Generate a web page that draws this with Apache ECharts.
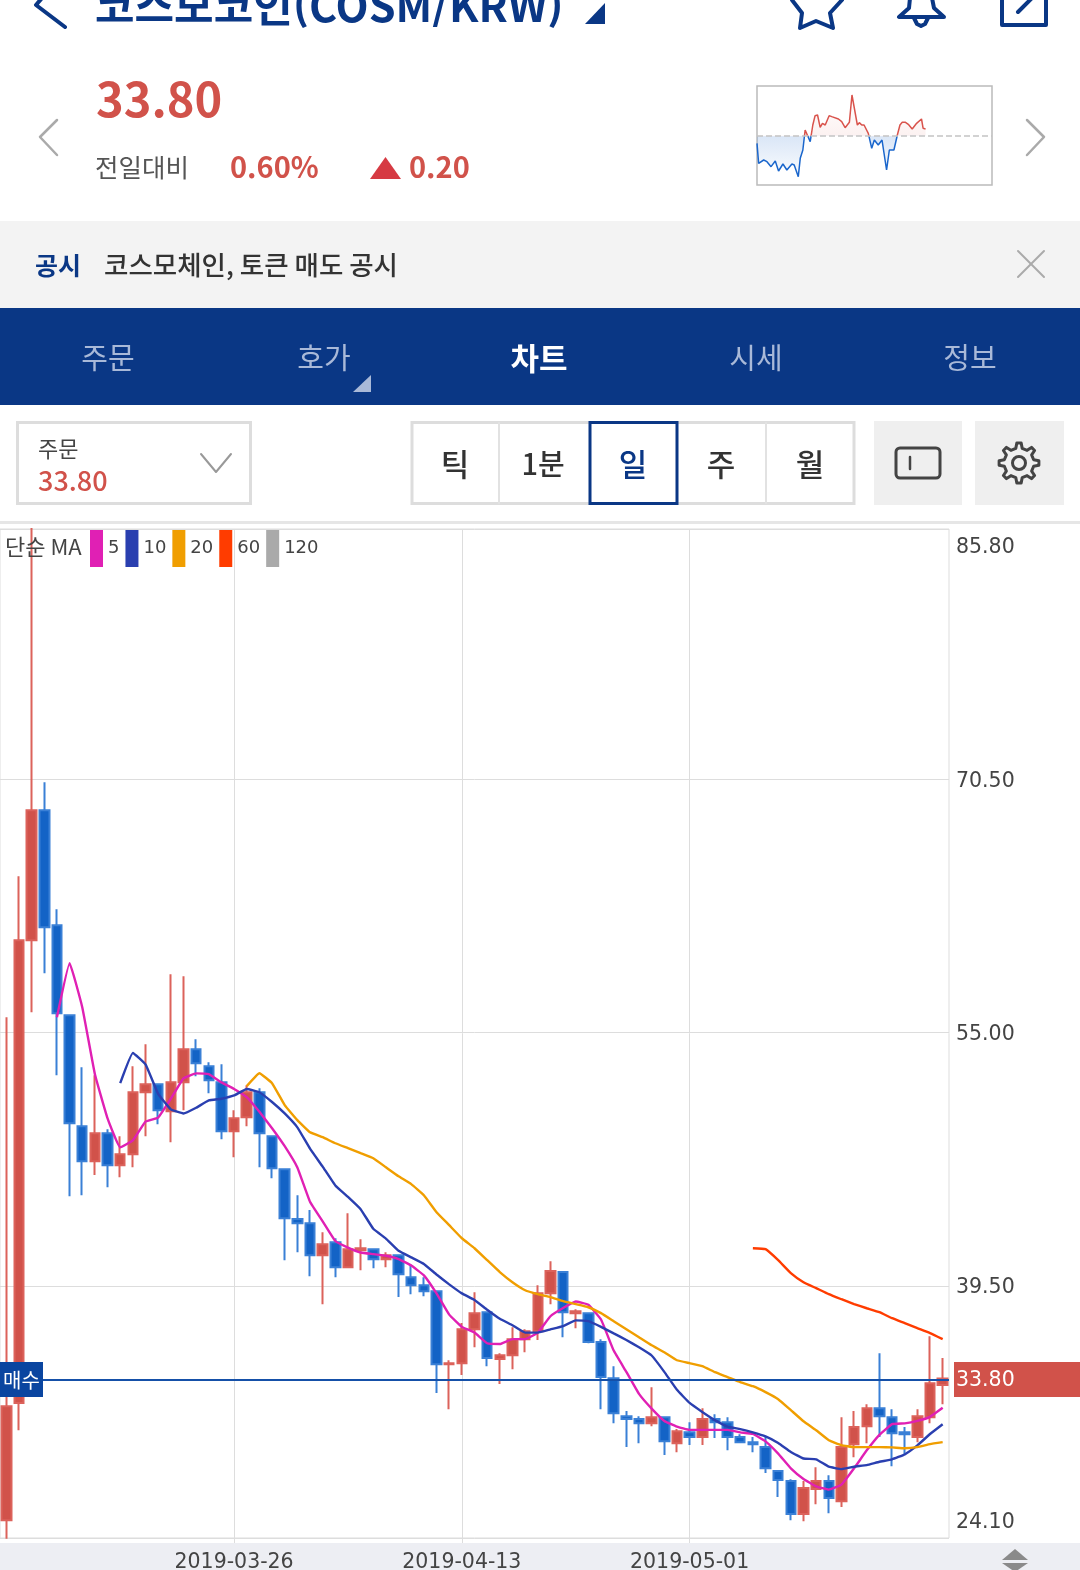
<!DOCTYPE html>
<html lang="ko">
<head>
<meta charset="utf-8">
<title>코스모코인 차트</title>
<script src="https://cdn.jsdelivr.net/npm/echarts@6/dist/echarts.min.js"></script>
<style>html,body{margin:0;padding:0;background:#fff}#chart{width:1080px;height:1570px}</style>
</head>
<body>
<div id="chart"></div>
<script>
const categories = [
"2019-03-08","2019-03-09","2019-03-10","2019-03-11","2019-03-12","2019-03-13","2019-03-14","2019-03-15","2019-03-16","2019-03-17",
"2019-03-18","2019-03-19","2019-03-20","2019-03-21","2019-03-22","2019-03-23","2019-03-24","2019-03-25","2019-03-26","2019-03-27",
"2019-03-28","2019-03-29","2019-03-30","2019-03-31","2019-04-01","2019-04-02","2019-04-03","2019-04-04","2019-04-05","2019-04-06",
"2019-04-07","2019-04-08","2019-04-09","2019-04-10","2019-04-11","2019-04-12","2019-04-13","2019-04-14","2019-04-15","2019-04-16",
"2019-04-17","2019-04-18","2019-04-19","2019-04-20","2019-04-21","2019-04-22","2019-04-23","2019-04-24","2019-04-25","2019-04-26",
"2019-04-27","2019-04-28","2019-04-29","2019-04-30","2019-05-01","2019-05-02","2019-05-03","2019-05-04","2019-05-05","2019-05-06",
"2019-05-07","2019-05-08","2019-05-09","2019-05-10","2019-05-11","2019-05-12","2019-05-13","2019-05-14","2019-05-15","2019-05-16",
"2019-05-17","2019-05-18","2019-05-19","2019-05-20","2019-05-21"];
const dateTicks = ["2019-03-26","2019-04-13","2019-05-01"];
const priceTicks = [24.10,39.50,55.00,70.50,85.80];
const lastPrice = 33.80;
// all readings below were taken against a baseline one pixel high
const readCorrection = 0.06;

const opens = [
25.13,32.29,60.59,68.54,61.51,56.01,49.22,47.08,48.79,46.84,
47.51,51.30,51.79,50.14,51.91,53.93,52.89,51.91,48.92,49.77,
51.30,48.61,46.59,43.54,43.29,41.33,42.13,40.60,41.64,41.70,
41.09,41.33,39.99,39.50,39.13,34.67,34.73,36.81,37.85,34.98,
35.22,36.20,36.69,39.01,40.30,37.79,37.79,36.02,33.81,31.49,
31.31,31.06,31.43,29.84,30.51,30.21,31.31,31.12,30.21,29.90,
29.60,28.13,27.52,25.50,27.03,27.52,26.29,29.78,30.88,31.98,
31.43,30.51,30.21,31.43,33.39];
const closes = [
32.10,60.59,68.54,61.39,56.13,49.40,47.08,48.79,46.84,47.51,
51.30,51.79,50.20,51.91,53.93,53.07,52.03,48.92,49.71,51.30,
48.79,46.65,43.60,43.29,41.33,42.01,40.60,41.70,41.76,41.09,
41.33,40.17,39.50,39.13,34.67,34.73,36.81,37.79,35.04,35.22,
36.20,36.69,39.01,40.36,37.85,37.91,36.02,33.88,31.67,31.31,
31.06,31.43,29.96,30.57,30.21,31.31,31.12,30.21,29.90,29.78,
28.31,27.58,25.50,27.09,27.52,26.48,29.60,30.82,31.98,31.49,
30.45,30.39,31.49,33.51,33.80];
const lows = [
24.00,30.63,56.19,58.58,52.34,44.94,45.00,46.23,45.49,46.10,
46.71,48.61,49.34,48.24,50.20,52.28,51.24,48.43,47.33,49.22,
46.71,46.04,41.03,41.52,40.05,38.34,39.99,40.54,40.42,40.54,
40.60,38.77,38.95,38.83,32.90,31.92,34.00,35.71,34.55,33.45,
34.36,35.40,36.14,38.34,36.32,36.87,35.95,31.92,31.06,29.60,
29.84,30.88,29.11,29.29,29.72,29.72,30.15,29.41,29.84,29.29,
28.01,26.54,25.13,25.07,26.11,25.56,25.93,28.98,29.84,30.21,
28.43,29.17,29.90,31.06,32.22];
const highs = [
55.89,64.51,85.80,70.25,62.49,56.01,52.83,52.34,49.04,48.61,
52.89,54.23,51.79,58.51,58.39,54.54,53.13,53.01,50.20,51.73,
51.54,48.67,46.59,45.00,44.09,42.74,42.37,43.90,42.31,41.70,
41.52,41.33,40.78,39.99,39.13,34.91,37.18,39.07,37.85,35.34,
36.93,36.81,39.50,40.97,40.30,38.03,37.79,36.20,34.55,31.80,
31.49,33.26,31.43,30.70,31.12,31.98,31.61,31.43,30.39,30.21,
30.21,28.13,27.64,27.52,28.37,27.88,31.43,31.80,32.22,35.34,
31.92,30.82,31.92,36.38,35.04];

const ma5 = [null,null,null,null,
55.89,59.19,56.50,52.40,49.70,47.93,
48.35,49.50,49.75,50.90,52.15,52.45,52.40,51.90,51.50,51.00,
50.10,49.10,48.00,46.70,44.60,43.40,42.20,41.80,41.50,41.40,
41.30,41.10,40.70,40.10,39.00,37.70,36.95,36.60,35.95,35.90,
36.20,36.20,36.60,37.60,38.10,38.50,38.30,37.40,35.50,34.20,
32.85,31.95,31.20,30.85,30.65,30.65,30.65,30.65,30.50,30.40,
29.95,29.20,28.30,27.65,27.20,27.00,27.30,28.30,29.40,30.35,
31.00,31.05,31.20,31.45,32.00];
const ma10 = [null,null,null,null,null,null,null,null,null,
51.85,
53.70,53.00,51.20,50.25,50.00,50.35,50.80,50.90,51.10,51.50,
51.30,50.70,50.00,49.15,47.85,46.75,45.60,44.90,44.15,42.95,
42.35,41.60,41.20,40.80,40.15,39.55,39.00,38.60,38.00,37.45,
37.05,36.60,36.60,36.80,37.00,37.35,37.30,36.95,36.55,36.15,
35.70,35.20,34.20,33.10,32.30,31.75,31.25,30.85,30.70,30.50,
30.25,29.85,29.30,28.90,28.85,28.40,28.25,28.40,28.50,28.70,
28.85,29.15,29.70,30.40,31.00];
const ma20 = [null,null,null,null,null,null,null,null,null,null,null,null,null,null,null,null,null,null,null,
51.67,
52.46,51.85,50.51,49.59,48.85,48.55,48.18,47.88,47.57,47.26,
46.71,46.16,45.68,45.00,43.96,43.17,42.37,41.76,41.03,40.30,
39.68,39.19,38.95,38.77,38.52,38.34,38.15,37.79,37.30,36.81,
36.32,35.83,35.40,34.91,34.73,34.55,34.18,33.88,33.57,33.32,
32.96,32.53,31.86,31.18,30.63,30.02,29.72,29.60,29.60,29.60,
29.58,29.53,29.60,29.78,29.90];
const ma60Start = 59;
const ma60Tail = [41.76,41.70,41.03,40.24,39.68,39.32,38.95,38.64,38.34,38.09,37.85,37.48,37.18,36.87,36.57,36.20];
const ma60 = categories.map((_, i) => i < ma60Start ? null : ma60Tail[i - ma60Start]);

const sparkMinutes = [0,10,20,41,61,86,112,132,143,159,183,214,228,253,265,281,295,306,326,342,356,371,387,401,418,442,458,468,499,519,540,566,582,615,627,642,656,682,703,719,743,766,794,811,839,860,876,890,910,927,951,961,978,1008,1018,1033];
const sparkPrices = [33.37,32.77,32.77,32.87,32.82,32.67,32.84,32.54,32.55,32.75,32.57,32.75,32.72,32.37,32.92,33.17,33.77,33.77,33.42,33.92,34.20,34.22,33.85,33.97,33.92,34.20,34.17,34.12,34.10,34.02,33.84,34.00,34.82,33.92,33.99,33.92,33.92,33.67,33.22,33.47,33.32,33.47,32.57,33.17,33.17,33.62,33.92,34.00,34.00,33.94,33.80,33.82,33.97,34.10,33.82,33.80];
const prevClose = 33.60;

const navLabels = ["주문","호가","차트","시세","정보"];
const periodLabels = ["틱","1분","일","주","월"];

const KR = '"Noto Sans CJK KR","Noto Sans",sans-serif';
const NUM = '"DejaVu Sans",sans-serif';
const NAVY = '#0a3785', RED = '#d1524a', BLUE = '#1363c6';
const WICK_RED = '#dc625b', WICK_BLUE = '#3a80d6';

function text(x, y, s, size, fill, opt = {}) {
  return { type:'text', z: opt.z ?? 10, style:{ x, y, text:s, fill,
    font:`${opt.weight||'normal'} ${size}px ${opt.family||KR}`,
    textAlign: opt.align||'left', textVerticalAlign:'middle' } };
}
function rect(x, y, w, h, style, z = 1) {
  return { type:'rect', z, shape:{x,y,width:w,height:h}, style };
}
function poly(points, style, z = 10, closed = false) {
  return { type: closed ? 'polygon' : 'polyline', z, shape:{points}, style };
}
const line = (stroke, lineWidth) => ({ stroke, lineWidth, fill:null, lineCap:'round', lineJoin:'round' });
function gearPoints(cx, cy, rOut, rIn, n) {
  const pts = [];
  for (let k = 0; k < n; k++) {
    const a = (k / n) * Math.PI * 2 - Math.PI / 2, s = Math.PI / n;
    [[-0.55, rIn], [-0.28, rOut], [0.28, rOut], [0.55, rIn]].forEach(([f, r]) =>
      pts.push([cx + r * Math.cos(a + f * s), cy + r * Math.sin(a + f * s)]));
  }
  return pts;
}

const navX = [108,324,539,756,970];
const periodX = [455,543,633,721,810];

const chrome = [
  // header (cut by the top of the screenshot)
  text(95, 6, '코스모코인(COSM/KRW)', 43, NAVY, {weight:'bold'}),
  poly([[65,27],[36,5],[42,-2]], line(NAVY,4)),
  poly([[585,24],[605,24],[605,3]], {fill:NAVY}, 10, true),
  poly([[792,0],[802,13],[800,28],[816,21],[833,28],[830,13],[842,0]], line(NAVY,4)),
  poly([[910,-2],[909,8],[899,17],[944,17],[934,8],[932,-2]], line(NAVY,4)),
  poly([[914,18],[917,24],[921,26],[925,24],[928,18]], line(NAVY,4)),
  poly([[1002,-2],[1002,25],[1046,25],[1046,-2]], line(NAVY,4)),
  poly([[1018,12],[1032,-2]], line(NAVY,4)),
  // price block
  text(96, 99, '33.80', 47, RED, {weight:'bold'}),
  text(95, 167, '전일대비', 25.5, '#555'),
  text(230, 167, '0.60%', 29, RED, {weight:'bold'}),
  poly([[370,179],[401,179],[385.5,157]], {fill:'#d63a43'}, 10, true),
  text(409, 167, '0.20', 29, RED, {weight:'bold'}),
  poly([[57,120],[40,137],[57,155]], line('#aaa',2.5)),
  poly([[1027,120],[1044,137],[1027,155]], line('#aaa',2.5)),
  // notice bar
  rect(0,221,1080,87,{fill:'#f3f3f3'}),
  text(35,265,'공시',25,NAVY,{weight:'bold'}),
  text(104,265,'코스모체인, 토큰 매도 공시',26.5,'#333',{weight:500}),
  poly([[1018,251],[1044,277]], line('#aaa',2)),
  poly([[1044,251],[1018,277]], line('#aaa',2)),
  // nav bar
  rect(0,308,1080,97,{fill:NAVY}),
  ...navLabels.map((s,i)=>text(navX[i],358,s,i===2?31:29,i===2?'#fff':'#a9b9d8',{align:'center',weight:i===2?'bold':'normal'})),
  poly([[353,392],[371,392],[371,375]], {fill:'#a9b9d8'}, 10, true),
  // toolbar
  rect(17.5,422.5,233,81,{fill:'#fff',stroke:'#ddd',lineWidth:3}),
  text(38,449,'주문',22,'#444'),
  text(38,481,'33.80',27,RED,{weight:500}),
  poly([[201,454],[216,472],[231,454]], line('#999',2)),
  rect(412,422.5,442,81,{fill:'#fff',stroke:'#ddd',lineWidth:3}),
  poly([[499,423],[499,503]], line('#e2e2e2',2)),
  poly([[766,423],[766,503]], line('#e2e2e2',2)),
  rect(590,422.5,87,81,{fill:'#fff',stroke:NAVY,lineWidth:3},2),
  ...periodLabels.map((s,i)=>text(periodX[i],464,s,i===1?29:31,i===2?NAVY:'#333',{align:'center',weight:500})),
  rect(874,421,88,84,{fill:'#efefef'}),
  rect(975,421,89,84,{fill:'#efefef'}),
  { type:'rect', z:10, shape:{x:896,y:448,width:44,height:30,r:4}, style:line('#444',3) },
  poly([[910,457],[910,469]], line('#444',2.5)),
  poly(gearPoints(1019,463,20,15,8), line('#444',3), 10, true),
  { type:'circle', z:10, shape:{cx:1019,cy:463,r:6.5}, style:line('#444',3) },
  rect(0,521,1080,3,{fill:'#e6e6e6'}),
  // legend caption
  text(5,547,'단순 MA',22,'#444',{z:12}),
  // bottom strip
  rect(0,1543,1080,27,{fill:'#edeef3'},-1),
  poly([[1002,1560],[1028,1560],[1015,1549]], {fill:'#8a8a8a'}, 10, true),
  poly([[1002,1563],[1028,1563],[1015,1572]], {fill:'#8a8a8a'}, 10, true),
  // price tags
  rect(954,1362,126,35,{fill:RED},100),
  text(956,1381,'33.80',20.5,'#fff',{family:NUM,z:101}),
  rect(0,1362,43,35,{fill:'#0a45a0'},100),
  text(21.5,1380,'매수',20,'#fff',{align:'center',z:101})
];

const isDateTick = (i) => dateTicks.includes(categories[i]);
const corrected = (arr) => arr.map((v) => v === null ? null : +(v + readCorrection).toFixed(2));
const lineSeries = (name, data, color) => ({
  name, type:'line', data:corrected(data), xAxisIndex:0, yAxisIndex:0, symbol:'none', smooth:0.1,
  connectNulls:false, clip:true, silent:true, z:5,
  itemStyle:{color}, lineStyle:{color, width:2.4}
});
const tickStyle = {fontFamily:NUM, fontSize:20.5, color:'#444'};

const option = {
  animation:false,
  backgroundColor:'#fff',
  textStyle:{fontFamily:KR},
  graphic:{elements:chrome},
  legend:{
    data:['5','10','20','60','120'], left:90, top:530, padding:0, itemWidth:13, itemHeight:37, itemGap:6,
    icon:'rect', selectedMode:false, z:12,
    textStyle:{fontFamily:NUM, fontSize:18, color:'#444'}
  },
  grid:[
    {left:0, right:131, top:529, height:1009, show:true, borderColor:'#ddd', borderWidth:1, backgroundColor:'transparent', outerBoundsMode:'none'},
    {left:757, top:86, width:235, height:99, show:true, borderColor:'#bbb', borderWidth:1.5, backgroundColor:'#fff', outerBoundsMode:'none'}
  ],
  xAxis:[
    {type:'category', gridIndex:0, data:categories, boundaryGap:true,
     axisLine:{show:false},
     axisTick:{show:true, alignWithLabel:true, interval:isDateTick, length:5, lineStyle:{color:'#ddd'}},
     splitLine:{show:true, alignWithLabel:true, interval:isDateTick, lineStyle:{color:'#ddd',width:1}},
     axisLabel:{interval:isDateTick, margin:14, fontFamily:NUM, fontSize:20.5, color:'#444', hideOverlap:false}},
    {type:'value', gridIndex:1, min:0, max:1440, show:false}
  ],
  yAxis:[
    {type:'value', gridIndex:0, position:'right', min:24.1, max:85.8, scale:true,
     axisLine:{show:false},
     axisTick:{show:false, customValues:priceTicks},
     splitLine:{show:true, lineStyle:{color:'#ddd',width:1}},
     axisLabel:{customValues:priceTicks, margin:7, ...tickStyle,
       formatter:(v)=>{
         const key = v === priceTicks[priceTicks.length-1] ? 'top' : v === priceTicks[0] ? 'bot' : 'mid';
         return `{${key}|${v.toFixed(2)}}`;
       },
       rich:{
         top:{...tickStyle, padding:[38,0,0,0]},
         bot:{...tickStyle, padding:[0,0,30,0]},
         mid:{...tickStyle, padding:[4,0,0,0]}
       }}},
    {type:'value', gridIndex:1, min:32.12, max:35.09, show:false, scale:true}
  ],
  visualMap:[{
    show:false, type:'piecewise', seriesIndex:5, dimension:1, min:31, max:36,
    pieces:[{min:31,max:prevClose,color:'#1a66cc'},{min:prevClose,max:36,color:'#d9534c'}]
  }],
  series:[
    {name:'일봉', type:'candlestick', xAxisIndex:0, yAxisIndex:0, z:3, barWidth:10, silent:true, clip:true,
     data:categories.map((_,i)=>[opens[i],closes[i],lows[i],highs[i]].map((v)=>+(v+readCorrection).toFixed(2))),
     itemStyle:{color:RED,color0:BLUE,borderColor:WICK_RED,borderColor0:WICK_BLUE,borderWidth:2},
     markLine:{silent:true,symbol:'none',animation:false,z:8,
       label:{show:false},
       lineStyle:{color:'#1550a8',width:2,type:'solid'},
       data:[{yAxis:lastPrice}]}},
    lineSeries('5',ma5,'#e020b4'),
    lineSeries('10',ma10,'#2a3fb0'),
    lineSeries('20',ma20,'#f09e00'),
    lineSeries('60',ma60,'#ff3c00'),
    {name:'당일', type:'line', xAxisIndex:1, yAxisIndex:1, symbol:'none', silent:true, z:4,
     data:sparkMinutes.map((t,i)=>[t,sparkPrices[i]]),
     lineStyle:{width:1.5},
     areaStyle:{origin:prevClose, opacity:1, color:{type:'linear',x:0,y:0,x2:0,y2:1,colorStops:[
       {offset:0,color:'rgba(217,83,76,0)'},{offset:0.49,color:'rgba(217,83,76,0.08)'},
       {offset:0.51,color:'rgba(26,102,204,0.16)'},{offset:1,color:'rgba(26,102,204,0.02)'}]}},
     markLine:{silent:true,symbol:'none',animation:false,label:{show:false},
       lineStyle:{color:'#c4c4c4',width:1.5,type:'dashed'},data:[{yAxis:prevClose}]}},
    {name:'120', type:'line', xAxisIndex:0, yAxisIndex:0, data:[], symbol:'none', itemStyle:{color:'#aaaaaa'}, lineStyle:{color:'#aaaaaa'}}
  ]
};
const chart = echarts.init(document.getElementById('chart'));
chart.setOption(option);
</script>
</body>
</html>
